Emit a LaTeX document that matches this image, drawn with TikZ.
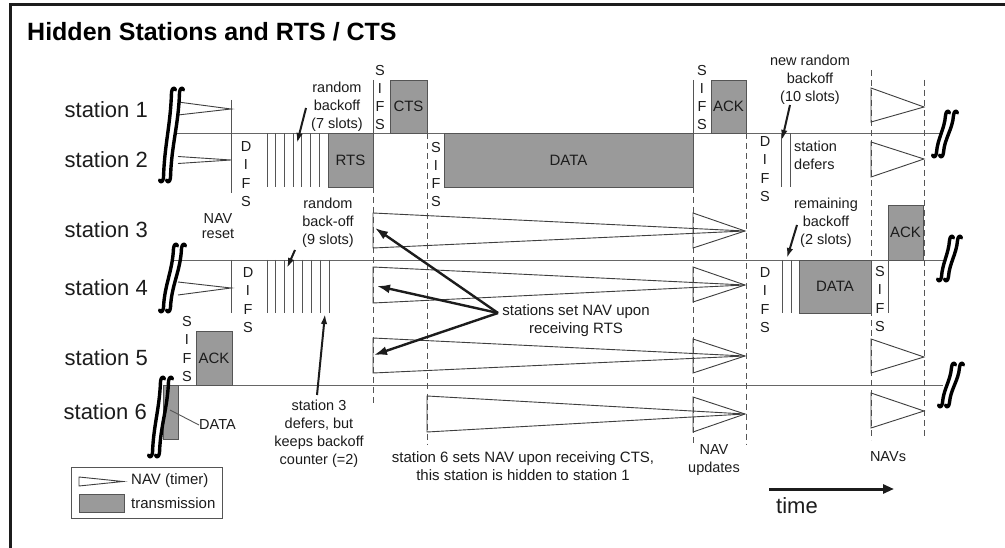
\documentclass[tikz,border=0pt]{standalone}
\usepackage{fontspec}
\setmainfont{Liberation Sans}
\usetikzlibrary{arrows.meta}
\definecolor{boxgray}{HTML}{9A9A9A}
\definecolor{edgegray}{HTML}{555555}
\definecolor{linegray}{HTML}{666666}
\definecolor{ink}{HTML}{1C1C1C}
\tikzset{
  lbl/.style={font=\fontsize{14.5}{18}\selectfont, align=center, inner sep=0pt, text=ink},
  mid/.style={font=\fontsize{15}{17.5}\selectfont, align=center, inner sep=0pt, text=ink},
  stn/.style={font=\fontsize{22}{24}\selectfont, inner sep=0pt, anchor=east, text=ink},
  vlet/.style={font=\fontsize{14.5}{18.3}\selectfont, align=center, inner sep=0pt, text=ink},
  frame/.style={line width=3pt, draw=ink},
  tline/.style={line width=0.9pt, draw=linegray},
  tick/.style={line width=0.9pt, draw=edgegray},
  navtri/.style={line width=0.9pt, draw=ink!85, line join=miter},
  guide/.style={line width=0.9pt, draw=edgegray, dash pattern=on 6pt off 4pt},
  tx/.style={draw=edgegray, fill=boxgray, line width=0.9pt, inner sep=0pt,
             font=\fontsize{15}{17}\selectfont, text=ink},
  brkline/.style={line width=3.4pt, draw=black, line cap=round, line join=round},
  bigptr/.style={line width=2.4pt, draw=ink, -{Latex[length=13pt,width=9pt]}},
  smallptr/.style={line width=2pt, draw=ink, -{Latex[length=10pt,width=6.5pt]}},
  timeptr/.style={line width=3pt, draw=ink, -{Triangle[length=11pt,width=9pt]}},
}
% one integral-shaped stroke: top x, top y, bottom x, bottom y
\newcommand\breakstroke[4]{%
  \draw[brkline] ({#1+3.5},{#2+2}) .. controls ({#1+2.5},{#2-1}) and ({#1},{#2-0.5}) .. ({#1-0.5},{#2+4.5})
    .. controls ({#1-1.5},{#2+0.4*(#4-#2)}) and ({#3+1.5},{#4-0.4*(#4-#2)}) .. ({#3+0.5},{#4-4.5})
    .. controls ({#3},{#4+0.5}) and ({#3-2.5},{#4+1}) .. ({#3-3.5},{#4-2});}
% double break mark in a time line
\newcommand\timebreak[4]{%
  \breakstroke{#1}{#2}{#3}{#4}%
  \breakstroke{#1+8}{#2}{#3+7}{#4}}
\begin{document}
\begin{tikzpicture}[x=1pt,y=-1pt]
\useasboundingbox (0,0) rectangle (1005,548);
\fill[white] (0,0) rectangle (1005,548);
% outer frame
\draw[frame] (10,548) -- (10,5) -- (1005,5);

% title
\node[font=\fontsize{25}{27}\selectfont\bfseries, anchor=west, inner sep=0pt, text=black] (title) at (27,32) {Hidden Stations and RTS / CTS};

% station names
\node[stn] (s1) at (148,110) {station 1};
\node[stn] (s2) at (148,160) {station 2};
\node[stn] (s3) at (148,230) {station 3};
\node[stn] (s4) at (148,288) {station 4};
\node[stn] (s5) at (148,358) {station 5};
\node[stn] (s6) at (147,412) {station 6};

% time lines
\draw[tline] (176,133.5) -- (940,133.5);
\draw[tline] (174,260) -- (945,260);
\draw[tline] (163,385) -- (943,385);

% dashed time marks
\draw[guide] (373,187) -- (373,403);
\draw[guide] (427,133.5) -- (427,445);
\draw[guide] (693,187) -- (693,445);
\draw[guide] (746,133.5) -- (746,445);
\draw[guide] (871,70) -- (871,440);
\draw[guide] (924,80) -- (924,437);

% solid marks: end of old NAV / DIFS start, SIFS bounds
\draw[tick] (231,100) -- (231,193);
\draw[tick] (231,260) -- (231,313);
\draw[tick] (373,80) -- (373,133.5);
\draw[tick] (693,80) -- (693,133.5);
\draw[tick] (888,260) -- (888,313);

% backoff slots
\foreach \x in {267,275.7,284.4,293.1,301.8,310.5,319.2}
  \draw[tick] (\x,133.5) -- (\x,187);
\foreach \x in {267,275.9,284.7,293.6,302.4,311.3,320.1,329}
  \draw[tick] (\x,260) -- (\x,313);
\draw[tick] (781,133.5) -- (781,187);
\draw[tick] (790,133.5) -- (790,187);
\draw[tick] (782,260) -- (782,313);
\draw[tick] (791,260) -- (791,313);

% NAV tails left of the DIFS
\draw[navtri] (178,102) -- (231,109) -- (178,115);
\draw[navtri] (178,156.5) -- (231,160) -- (178,163.5);
\draw[navtri] (178,282) -- (231,288) -- (178,295);

% NAV timers set by RTS / CTS
\draw[navtri] (373,213) -- (745,231) -- (373,248) -- cycle;
\draw[navtri] (373,267) -- (745,285) -- (373,303) -- cycle;
\draw[navtri] (373,338) -- (745,356) -- (373,373) -- cycle;
\draw[navtri] (427,396) -- (745,414) -- (427,432) -- cycle;
% NAV updates
\draw[navtri] (693,213) -- (745,231) -- (693,248) -- cycle;
\draw[navtri] (693,267) -- (745,285) -- (693,302) -- cycle;
\draw[navtri] (693,339) -- (745,356) -- (693,373) -- cycle;
\draw[navtri] (693,397) -- (745,414) -- (693,432) -- cycle;
% later NAVs
\draw[navtri] (871,88) -- (924,107) -- (871,122) -- cycle;
\draw[navtri] (871,142) -- (924,159) -- (871,177) -- cycle;
\draw[navtri] (871,339) -- (924,357) -- (871,373) -- cycle;
\draw[navtri] (871,393) -- (924,411) -- (871,428) -- cycle;

% transmissions
\node[tx, minimum width=45pt, minimum height=54pt] (rts) at (350.5,160) {RTS};
\node[tx, minimum width=37pt, minimum height=53pt] (cts) at (408.5,106.5) {CTS};
\node[tx, minimum width=249pt, minimum height=54pt] (data2) at (568.5,160) {DATA};
\node[tx, minimum width=35pt, minimum height=53pt] (ack1) at (728.5,106.5) {ACK};
\node[tx, minimum width=36pt, minimum height=54pt] (ack5) at (214,358) {ACK};
\node[tx, minimum width=15pt, minimum height=54pt] (data6) at (170.5,412) {};
\node[tx, minimum width=35pt, minimum height=55pt] (ack3) at (905.5,232.5) {ACK};
\node[tx, minimum width=72pt, minimum height=53pt] (data4) at (835,286.5) {DATA};

% interframe spaces
\node[vlet] (difs2) at (246,174) {D\\I\\F\\S};
\node[vlet] (difs4) at (248,300) {D\\I\\F\\S};
\node[vlet] (sifs5) at (187,349) {S\\I\\F\\S};
\node[vlet] (sifs1a) at (380,97.5) {S\\I\\F\\S};
\node[vlet] (sifs2) at (436,174.5) {S\\I\\F\\S};
\node[vlet] (sifs1b) at (702,97.5) {S\\I\\F\\S};
\node[vlet] (difs2b) at (765,169) {D\\I\\F\\S};
\node[vlet] (difs4b) at (765,300) {D\\I\\F\\S};
\node[vlet] (sifs4) at (880,299) {S\\I\\F\\S};

% annotations
\node[lbl] (bo7) at (337,107) {random\\backoff\\(7 slots)};
\node[lbl, font=\fontsize{14.5}{15}\selectfont] (navreset) at (218,226.5) {NAV\\reset};
\node[lbl] (bo9) at (328,223) {random\\back-off\\(9 slots)};
\node[lbl] (defer3) at (319,434) {station 3\\defers, but\\keeps backoff\\counter (=2)};
\node[mid] (navrts) at (576,320.5) {stations set NAV upon\\receiving RTS};
\node[mid] (navcts) at (523,466) {station 6 sets NAV upon receiving CTS,\\this station is hidden to station 1};
\node[lbl] (navupd) at (714,460) {NAV\\updates};
\node[lbl] (navs) at (888,457) {NAVs};
\node[lbl] (bo10) at (810,80) {new random\\backoff\\(10 slots)};
\node[lbl, align=left, anchor=west] (defer2) at (794,155.5) {station\\defers};
\node[lbl] (bo2) at (826,223) {remaining\\backoff\\(2 slots)};
\node[lbl, anchor=west] (data6lbl) at (199,425) {DATA};
\coordinate (d6lead) at (170,410);
\draw[tick] (d6lead) -- (data6lbl.west);

% pointers
\coordinate (p7a) at (306,108);   \coordinate (p7b) at (297,143);
\coordinate (p9a) at (295,250);   \coordinate (p9b) at (287,268);
\coordinate (pda) at (317,395);   \coordinate (pdb) at (325,314);
\coordinate (p10a) at (790,105);  \coordinate (p10b) at (782,140);
\coordinate (p2a) at (797,225);   \coordinate (p2b) at (787,258);
\draw[smallptr] (p7a) -- (p7b);
\draw[smallptr] (p9a) -- (p9b);
\draw[smallptr] (pda) -- (pdb);
\draw[smallptr] (p10a) -- (p10b);
\draw[smallptr] (p2a) -- (p2b);

\coordinate (navsrc) at (498,313);
\coordinate (nav3) at (375,228);
\coordinate (nav4) at (377,286);
\coordinate (nav5) at (374,355);
\draw[bigptr] (navsrc) -- (nav3);
\draw[bigptr] (navsrc) -- (nav4);
\draw[bigptr] (navsrc) -- (nav5);

% time axis
\coordinate (t0) at (769,489); \coordinate (t1) at (894,489);
\draw[timeptr] (t0) -- (t1);
\node[font=\fontsize{22}{24}\selectfont, inner sep=0pt, text=ink] (timelbl) at (797,506) {time};

% legend
\node[draw=edgegray, line width=1pt, minimum width=151pt, minimum height=51pt, inner sep=0pt] (legend) at (146.5,492.5) {};
\draw[navtri] (79,477) -- (123,481.5) -- (79,486) -- cycle;
\node[tx, minimum width=45pt, minimum height=18pt] (legtx) at (101.5,503) {};
\node[mid, anchor=west] (legnav) at (131,481) {NAV (timer)};
\node[mid, anchor=west] (legtr) at (131,503) {transmission};

% breaks in the time axis
\timebreak{172}{88}{163}{182}
\timebreak{174}{244}{163}{312}
\timebreak{161}{377}{152}{457}
\timebreak{946}{111}{936}{157}
\timebreak{950}{236}{941}{281}
\timebreak{952}{363}{942}{407}
\end{tikzpicture}
\end{document}
